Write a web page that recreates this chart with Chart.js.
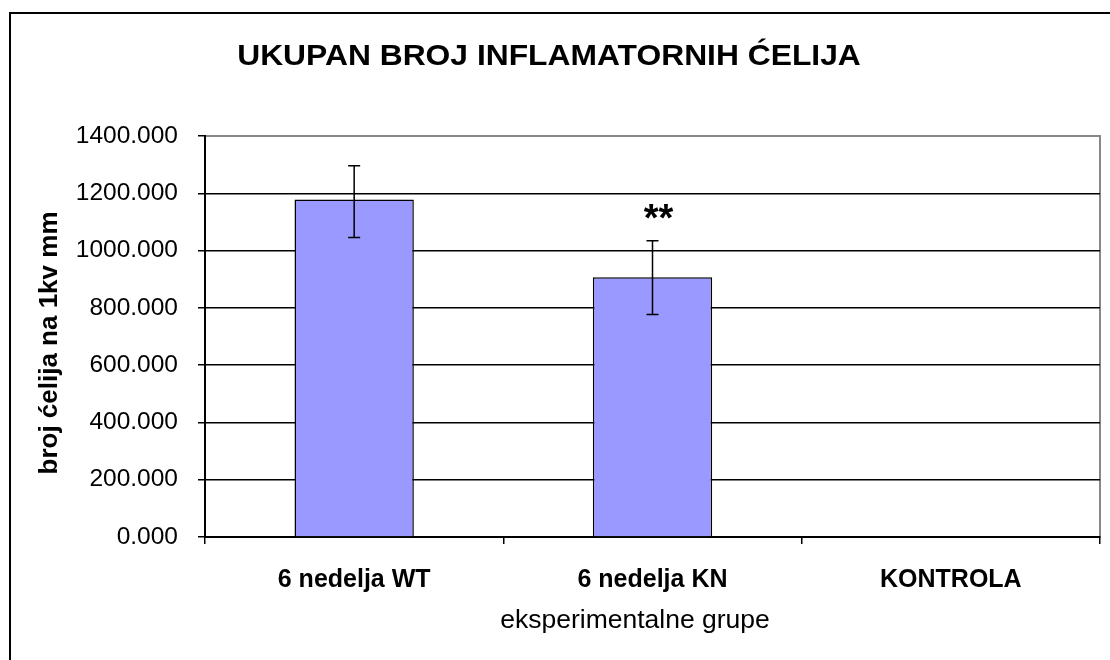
<!DOCTYPE html>
<html>
<head>
<meta charset="utf-8">
<script src="https://cdn.jsdelivr.net/npm/chart.js@4/dist/chart.umd.min.js"></script>
<style>
  html, body { margin: 0; padding: 0; background: #fff; }
  #wrap { position: relative; width: 1110px; height: 660px; }
</style>
</head>
<body>
<div id="wrap"><canvas id="chart" width="1110" height="660"></canvas></div>
<script>
// ── data ──────────────────────────────────────────────
var groups = ['6 nedelja WT', '6 nedelja KN', 'KONTROLA'];
var cellCounts = [1178, 907, null];
var errLow = [1046, 777, null];
var errHigh = [1296, 1034, null];
var signif = ['', '**', ''];
var yTicks = [0, 200, 400, 600, 800, 1000, 1200, 1400];

var chartTitle = 'UKUPAN BROJ INFLAMATORNIH ĆELIJA';
var yTitle = 'broj ćelija na 1kv mm';
var xTitle = 'eksperimentalne grupe';

var FONT = '"Liberation Sans", Arial, sans-serif';

// frame, grey plot border, titles
var framePlugin = {
  id: 'frame',
  beforeDraw: function(chart) {
    var c = chart.ctx, a = chart.chartArea;
    c.save();
    c.fillStyle = '#fff';
    c.fillRect(0, 0, chart.width, chart.height);
    c.strokeStyle = '#000';
    c.lineWidth = 2;
    c.strokeRect(10, 13, chart.width + 20, chart.height + 20);
    c.strokeStyle = '#888';
    c.lineWidth = 2;
    c.strokeRect(a.left, a.top, a.right - a.left, a.bottom - a.top);
    c.restore();
  },
  afterDraw: function(chart) {
    var c = chart.ctx, a = chart.chartArea;
    c.save();
    c.fillStyle = '#000';
    c.textAlign = 'center';
    c.textBaseline = 'alphabetic';
    // title, a little wider than the plain font
    c.save();
    c.translate(549, 65);
    c.scale(1.06, 1);
    c.font = 'bold 30px ' + FONT;
    c.fillText(chartTitle, 0, 0);
    c.restore();
    c.font = '26.5px ' + FONT;
    c.fillText(xTitle, 635, 628);
    c.translate(57, 343);
    c.rotate(-Math.PI / 2);
    c.font = 'bold 26px ' + FONT;
    c.fillText(yTitle, 0, 0);
    c.restore();
  }
};

// error bars + significance stars
var errorPlugin = {
  id: 'errbars',
  afterDatasetsDraw: function(chart) {
    var c = chart.ctx, ys = chart.scales.y;
    var meta = chart.getDatasetMeta(0);
    c.save();
    c.strokeStyle = '#000';
    c.lineWidth = 1.5;
    meta.data.forEach(function(bar, i) {
      if (errLow[i] == null) return;
      var x = bar.x, y1 = ys.getPixelForValue(errLow[i]), y2 = ys.getPixelForValue(errHigh[i]);
      c.beginPath();
      c.moveTo(x, y1); c.lineTo(x, y2);
      c.moveTo(x - 6, y1); c.lineTo(x + 6, y1);
      c.moveTo(x - 6, y2); c.lineTo(x + 6, y2);
      c.stroke();
      if (signif[i]) {
        c.fillStyle = '#000';
        c.font = 'bold 38px ' + FONT;
        c.textAlign = 'center';
        c.textBaseline = 'middle';
        c.fillText(signif[i], x + 6, y2 - 20);
      }
    });
    c.restore();
  }
};

new Chart(document.getElementById('chart'), {
  type: 'bar',
  data: {
    labels: groups,
    datasets: [{
      data: cellCounts,
      backgroundColor: '#9999ff',
      borderColor: '#000',
      borderWidth: 1.5,
      barPercentage: 0.4,
      categoryPercentage: 1.0
    }]
  },
  options: {
    responsive: false,
    animation: false,
    layout: { padding: { top: 136, right: 10, left: 0, bottom: 0 } },
    plugins: {
      legend: { display: false },
      tooltip: { enabled: false }
    },
    scales: {
      x: {
        afterFit: function(s) { s.height = 123; },
        grid: {
          drawOnChartArea: false,
          drawTicks: true,
          tickLength: 7,
          color: '#000',
          lineWidth: 1.5,
          offset: true
        },
        border: { color: '#000', width: 2 },
        ticks: {
          color: '#000',
          padding: 21,
          font: { family: FONT, size: 25, weight: 'bold' }
        }
      },
      y: {
        min: 0,
        max: 1400,
        afterFit: function(s) { s.width = 205; },
        afterBuildTicks: function(s) { s.ticks = yTicks.map(function(v) { return { value: v }; }); },
        grid: {
          color: function(ctx) { return ctx.tick && ctx.tick.value === 1400 ? '#888' : '#000'; },
          lineWidth: 1.5,
          tickLength: 7,
          tickColor: '#000'
        },
        border: { color: '#000', width: 2 },
        ticks: {
          color: '#000',
          padding: 20,
          font: { family: FONT, size: 24.5 },
          callback: function(v) { return Number(v).toFixed(3); }
        }
      }
    }
  },
  plugins: [framePlugin, errorPlugin]
});
</script>
</body>
</html>
